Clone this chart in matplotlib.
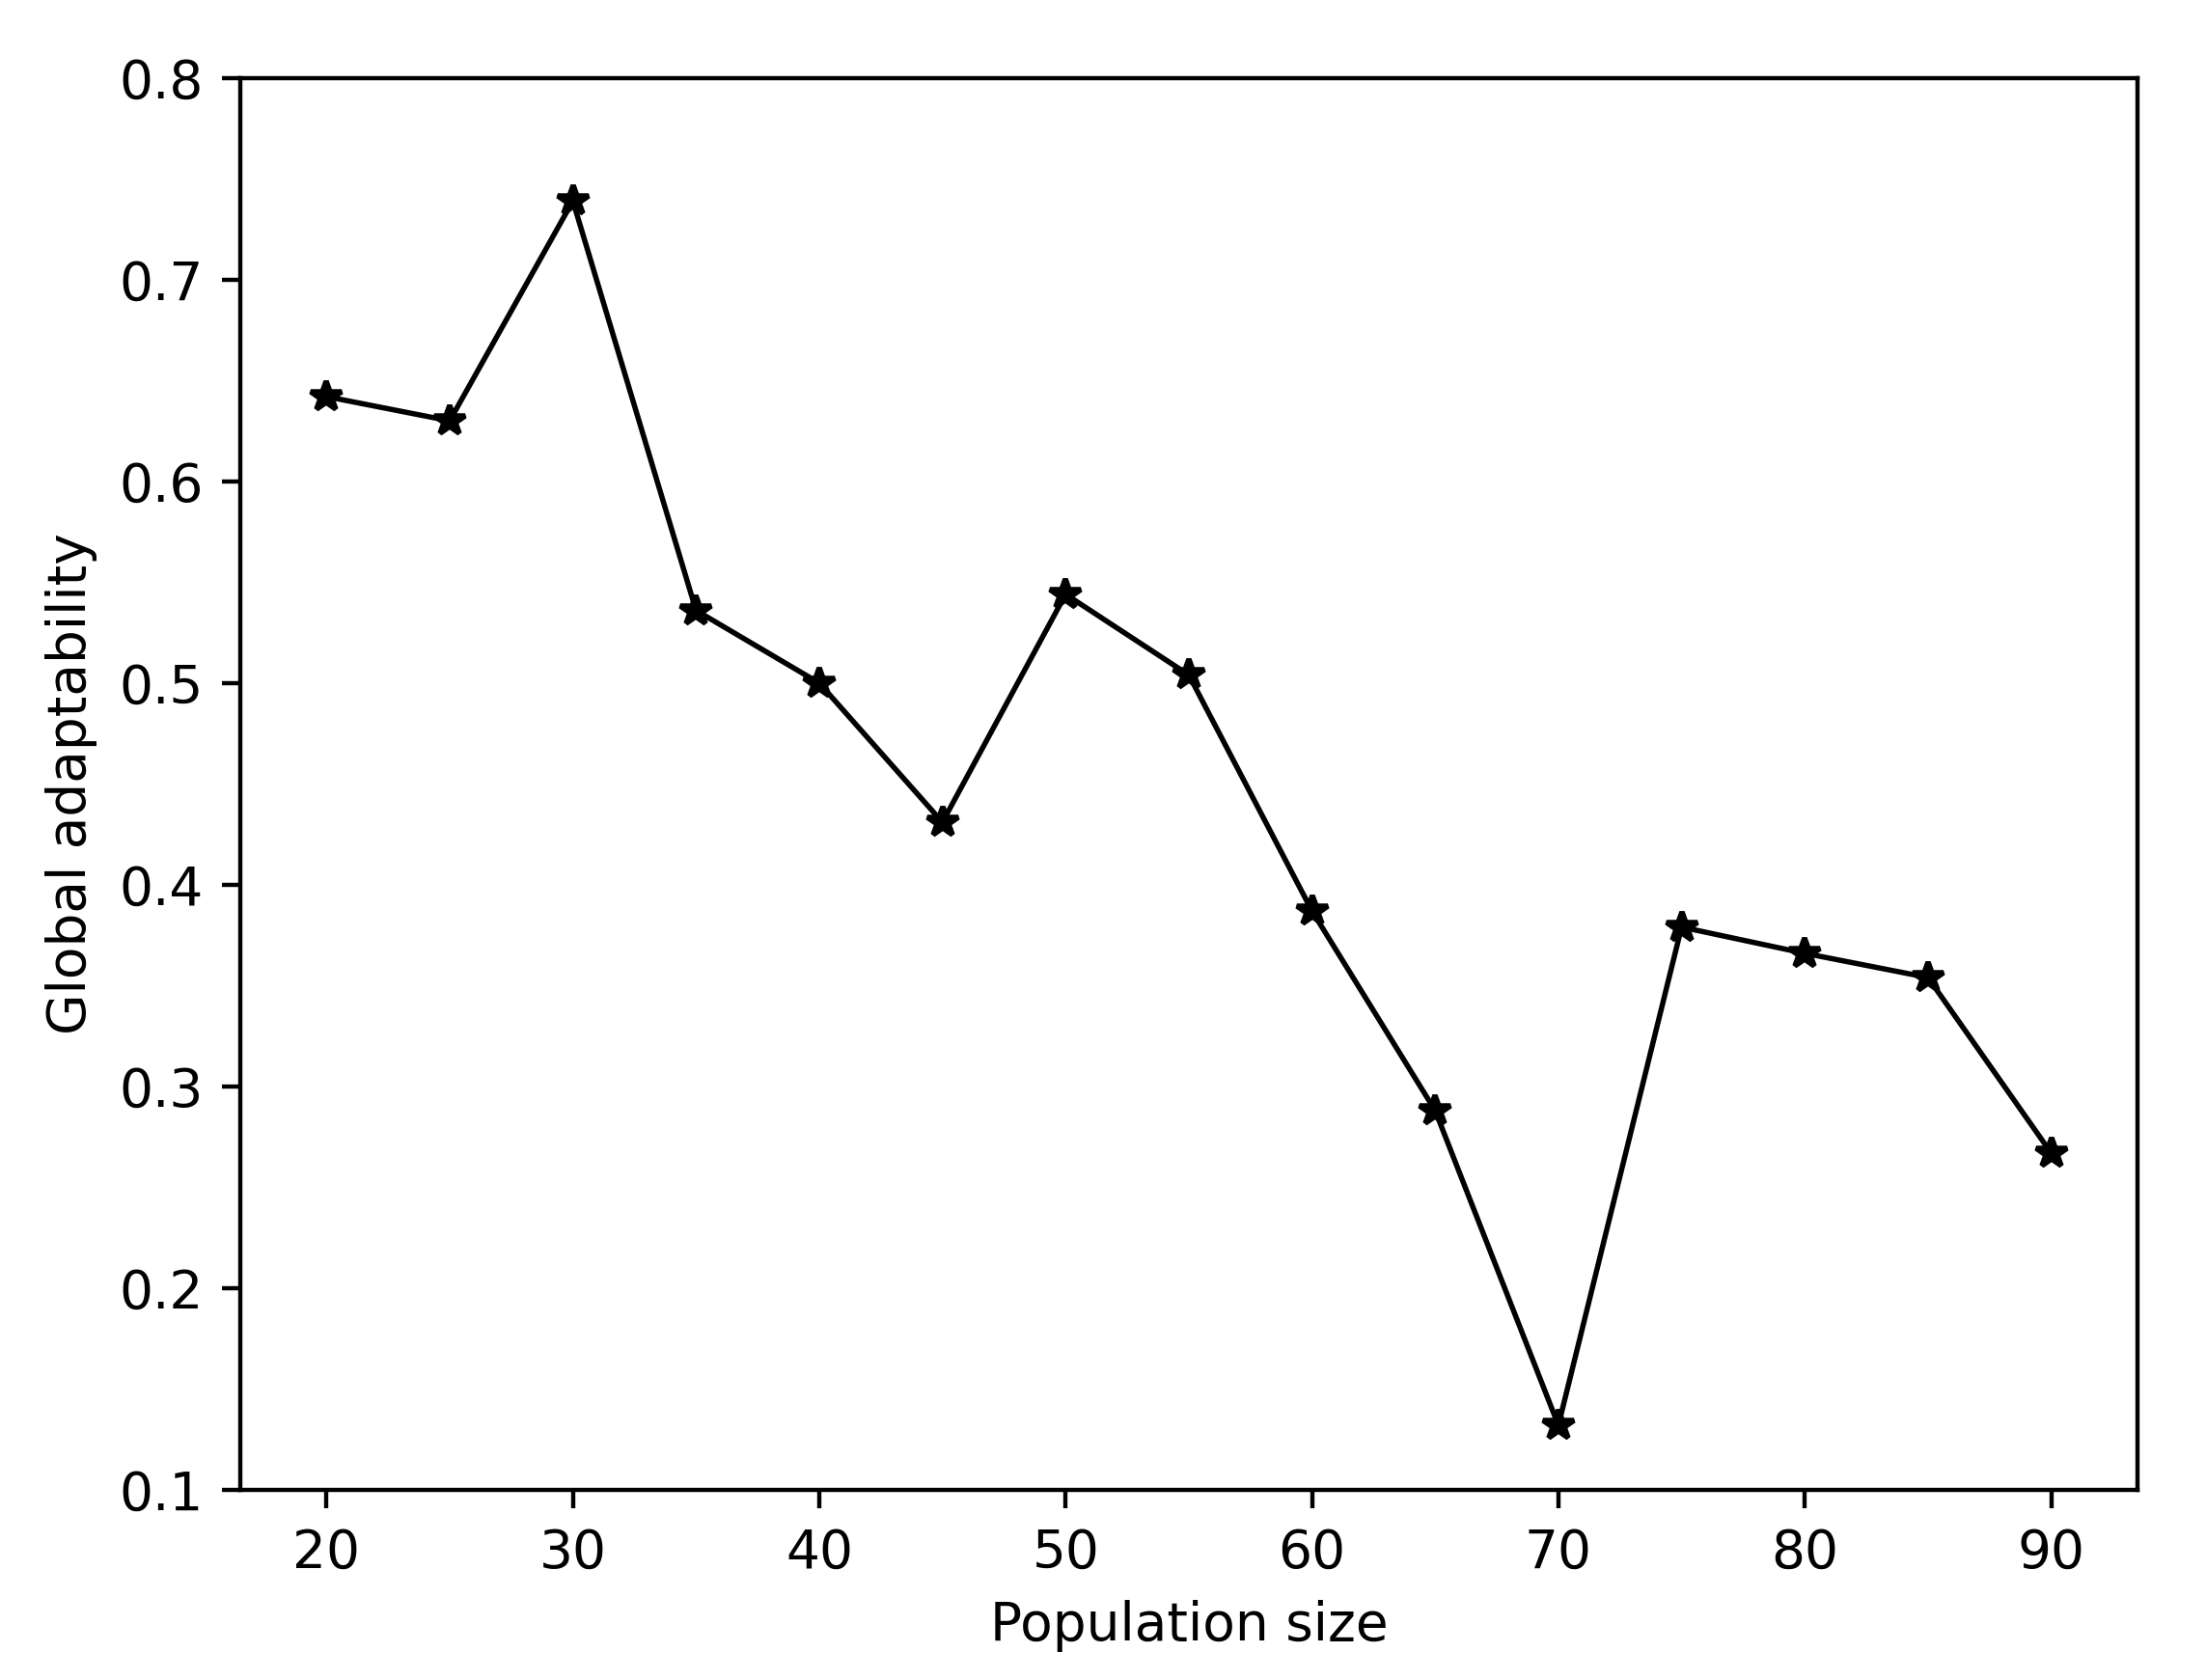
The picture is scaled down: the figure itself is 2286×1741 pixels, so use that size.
import matplotlib
matplotlib.use("Agg")
import matplotlib.pyplot as plt

# population size vs global adaptability
pop_size = [20, 25, 30, 35, 40, 45, 50, 55, 60, 65, 70, 75, 80, 85, 90]
adaptability = [0.642, 0.630, 0.739, 0.536, 0.500, 0.431, 0.544, 0.504,
                0.387, 0.288, 0.132, 0.379, 0.366, 0.354, 0.267]

x_ticks = [20, 30, 40, 50, 60, 70, 80, 90]
y_ticks = [0.1, 0.2, 0.3, 0.4, 0.5, 0.6, 0.7, 0.8]

fig = plt.figure(figsize=(2286/396, 1741/396), dpi=396)
fig.subplots_adjust(left=0.1089, right=0.9689, top=0.9536, bottom=0.1132)
ax = fig.add_subplot(111)

ax.plot(pop_size, adaptability, 'k*-', linewidth=1, markersize=6)
ax.set_xticks(x_ticks)
ax.set_yticks(y_ticks)
ax.set_ylim(0.1, 0.8)
ax.set_xlabel('Population size')
ax.set_ylabel('Global adaptability')

fig.savefig('out.png', dpi=396)
